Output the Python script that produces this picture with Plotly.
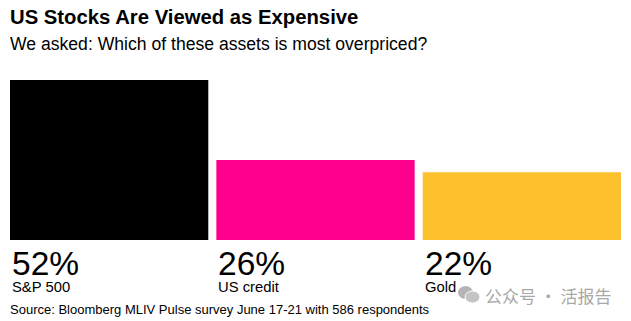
import plotly.graph_objects as go

# Survey results: share of respondents naming each asset as most overpriced
assets = ["S&P 500", "US credit", "Gold"]
shares = [52, 26, 22]
colors = ["#000000", "#ff008c", "#fcc12c"]

title = "US Stocks Are Viewed as Expensive"
subtitle = "We asked: Which of these assets is most overpriced?"
source = "Source: Bloomberg MLIV Pulse survey June 17-21 with 586 respondents"
watermark = "公众号 · 活报告"

W, H = 631, 321
M_L, M_R, M_T, M_B = 10, 10, 80, 81
GAP = 0.039
FONT = "Liberation Sans, Arial, sans-serif"

plot_h = H - M_T - M_B


def py(px):
    """Convert a pixel row (from the top of the page) to paper y."""
    return (H - M_B - px) / plot_h


def px_x(px):
    """Convert a pixel column to paper x."""
    return (px - M_L) / (W - M_L - M_R)


fig = go.Figure(
    go.Bar(
        x=list(range(len(assets))),
        y=shares,
        marker=dict(color=colors, line=dict(width=0)),
        width=1 - GAP,
        hoverinfo="skip",
    )
)

annotations = []
for i, (name, val) in enumerate(zip(assets, shares)):
    left = i - (1 - GAP) / 2
    # big value on the first line, asset name right under it
    annotations.append(dict(
        x=left, xref="x", y=0, yref="paper", xanchor="left", yanchor="top",
        text=(f"<span style='font-size:33.5px'>{val}%</span><br>"
              f"<span style='font-size:14.8px'>{name}</span>"),
        align="left", showarrow=False, yshift=-3, xshift=0,
        font=dict(family=FONT, size=13.1, color="#000000"),
    ))

annotations += [
    dict(x=px_x(8), xref="paper", y=py(4), yref="paper", xanchor="left", yanchor="top",
         text=f"<b>{title}</b>", showarrow=False,
         font=dict(family=FONT, size=20.3, color="#000000")),
    dict(x=px_x(8), xref="paper", y=py(32), yref="paper", xanchor="left", yanchor="top",
         text=subtitle, showarrow=False,
         font=dict(family=FONT, size=17.6, color="#000000")),
    dict(x=px_x(8), xref="paper", y=py(300), yref="paper", xanchor="left", yanchor="top",
         text=source, showarrow=False,
         font=dict(family=FONT, size=13, color="#000000")),
    dict(x=px_x(483), xref="paper", y=py(281), yref="paper", xanchor="left", yanchor="top",
         text=watermark, showarrow=False,
         font=dict(family="Noto Sans CJK SC, sans-serif", size=17, color="#a8a8a8")),
]

# small chat-bubble logo next to the watermark text
shapes = [
    dict(type="circle", xref="paper", yref="paper",
         x0=px_x(458), x1=px_x(473), y0=py(299), y1=py(286),
         fillcolor="#b4b4b4", line=dict(width=0)),
    dict(type="circle", xref="paper", yref="paper",
         x0=px_x(465), x1=px_x(480), y0=py(303), y1=py(291),
         fillcolor="#c4c4c4", line=dict(width=1, color="#ffffff")),
]

fig.update_layout(
    width=W, height=H,
    margin=dict(l=M_L, r=M_R, t=M_T, b=M_B, pad=0),
    paper_bgcolor="#ffffff", plot_bgcolor="#ffffff",
    showlegend=False,
    bargap=GAP,
    xaxis=dict(visible=False, range=[-0.5 + GAP / 2, len(assets) - 0.5 - GAP / 2]),
    yaxis=dict(visible=False, range=[0, max(shares)]),
    annotations=annotations,
    shapes=shapes,
)

fig.write_html("out.html")
